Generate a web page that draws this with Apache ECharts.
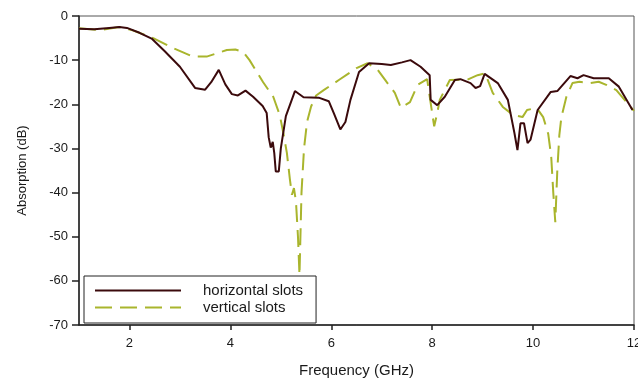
<!DOCTYPE html>
<html>
<head>
<meta charset="utf-8">
<script src="https://cdn.jsdelivr.net/npm/echarts@6/dist/echarts.min.js"></script>
<style>
html,body{margin:0;padding:0;background:#fff;}
#chart{width:638px;height:378px;}
</style>
</head>
<body>
<div id="chart"></div>
<script>
var xTicks = [2, 4, 6, 8, 10, 12];
var seriesNames = ['horizontal slots', 'vertical slots'];

var freqH = [1.0,1.3,1.6,1.8,1.95,2.2,2.45,2.7,3.0,3.3,3.5,3.62,3.77,3.9,4.03,4.15,4.3,4.45,4.64,4.72,4.76,4.8,4.84,4.87,4.9,4.96,5.0,5.1,5.28,5.45,5.75,5.95,6.05,6.18,6.28,6.38,6.55,6.75,7.0,7.18,7.4,7.57,7.77,7.95,7.97,8.1,8.25,8.45,8.56,8.76,8.86,8.95,9.04,9.3,9.5,9.63,9.69,9.75,9.82,9.89,9.95,10.09,10.35,10.48,10.74,10.88,11.0,11.2,11.5,11.7,11.97];
var absH = [-2.9,-3.0,-2.7,-2.5,-2.7,-3.8,-5.2,-8,-11.5,-16.3,-16.7,-15,-12.2,-15.5,-17.7,-18,-16.9,-18.3,-20.4,-22,-27.5,-29.8,-28.5,-31,-35.2,-35.2,-30,-22.7,-17,-18.4,-18.5,-19.3,-22,-25.7,-24,-19,-12.7,-10.7,-10.9,-11.1,-10.5,-10,-11.5,-13.4,-19,-20.2,-18.3,-14.5,-14.3,-15.2,-16.3,-15.9,-13.1,-15.2,-19,-26.5,-30.4,-24.3,-24.3,-28.8,-28,-21.3,-17.2,-17,-13.6,-14.1,-13.4,-14.1,-14.1,-16,-21.3];

var freqV = [1.0,1.4,1.8,2.05,2.47,2.87,3.26,3.53,3.93,4.1,4.25,4.38,4.65,4.85,4.98,5.05,5.12,5.18,5.22,5.26,5.3,5.34,5.37,5.41,5.46,5.52,5.6,5.7,5.85,6.15,6.5,6.72,6.92,7.1,7.26,7.38,7.56,7.71,7.9,8.0,8.04,8.1,8.15,8.35,8.7,8.9,9.05,9.2,9.4,9.6,9.79,9.88,10.07,10.2,10.3,10.36,10.4,10.44,10.48,10.52,10.56,10.66,10.78,10.92,11.12,11.3,11.45,11.65,11.85,12.0];
var absV = [-2.8,-3.2,-2.5,-3.2,-5,-7.3,-9.2,-9.2,-7.7,-7.6,-8.1,-10,-15,-18.3,-22.5,-26.5,-31,-37,-40.5,-39,-42,-50,-58.7,-40,-30,-24,-20.5,-18,-16.8,-14.5,-11.8,-10.7,-12.2,-15,-17.4,-20.8,-19.5,-15.6,-14.3,-22,-25,-22,-19,-14.5,-14.4,-13.4,-13,-17.4,-20.6,-22.4,-22.9,-21.3,-20.8,-22.9,-26.7,-32,-40,-46.7,-35,-27,-23,-18.3,-15.2,-14.9,-15.2,-14.9,-15.6,-16.8,-19.5,-21.5];

function pairs(xs, ys) {
  var out = [];
  for (var i = 0; i < xs.length; i++) out.push([xs[i], ys[i]]);
  return out;
}

var chart = echarts.init(document.getElementById('chart'), null, {renderer: 'canvas'});
var font = 'Liberation Sans, Arial, sans-serif';
chart.setOption({
  animation: false,
  backgroundColor: '#fff',
  grid: {left: 79, right: 4, top: 16, bottom: 53, containLabel: false, outerBoundsMode: 'none', show: true, borderColor: '#555', borderWidth: 1, backgroundColor: 'transparent'},
  xAxis: {
    type: 'value', min: 1, max: 12,
    name: 'Frequency (GHz)', nameLocation: 'middle', nameGap: 38,
    nameTextStyle: {fontFamily: font, fontSize: 15, color: '#1a1a1a'},
    axisLine: {show: true, onZero: false, lineStyle: {color: '#222', width: 1.5}},
    axisTick: {show: true, inside: false, length: 5, customValues: xTicks, lineStyle: {color: '#222', width: 1.5}},
    axisLabel: {show: true, customValues: xTicks, margin: 12, fontFamily: font, fontSize: 13, color: '#1a1a1a'},
    splitLine: {show: false}
  },
  yAxis: {
    type: 'value', min: -70, max: 0, interval: 10,
    name: 'Absorption (dB)', nameLocation: 'middle', nameGap: 50,
    nameTextStyle: {fontFamily: font, fontSize: 13, color: '#1a1a1a'},
    axisLine: {show: true, onZero: false, lineStyle: {color: '#222', width: 1.5}},
    axisTick: {show: true, inside: false, length: 7, lineStyle: {color: '#222', width: 1.5}},
    axisLabel: {margin: 11, fontFamily: font, fontSize: 13, color: '#1a1a1a'},
    splitLine: {show: false}
  },
  legend: {
    orient: 'vertical', left: 84, top: 276,
    data: seriesNames,
    itemWidth: 86, itemHeight: 14, itemGap: 2,
    padding: [7, 13, 8, 10],
    backgroundColor: '#fff', borderColor: '#222', borderWidth: 1,
    itemStyle: {opacity: 0},
    textStyle: {fontFamily: font, fontSize: 15, color: '#1a1a1a', padding: [0, 0, 0, 17]}
  },
  series: [
    {
      name: seriesNames[0], type: 'line', data: pairs(freqH, absH),
      symbol: 'none', showSymbol: false, smooth: false, z: 3,
      lineStyle: {color: '#3b0a0c', width: 2},
      itemStyle: {color: '#3b0a0c'}
    },
    {
      name: seriesNames[1], type: 'line', data: pairs(freqV, absV),
      symbol: 'none', showSymbol: false, smooth: false, z: 2,
      lineStyle: {color: '#a9b52d', width: 2, type: [17, 8]},
      itemStyle: {color: '#a9b52d'}
    }
  ]
});
</script>
</body>
</html>
